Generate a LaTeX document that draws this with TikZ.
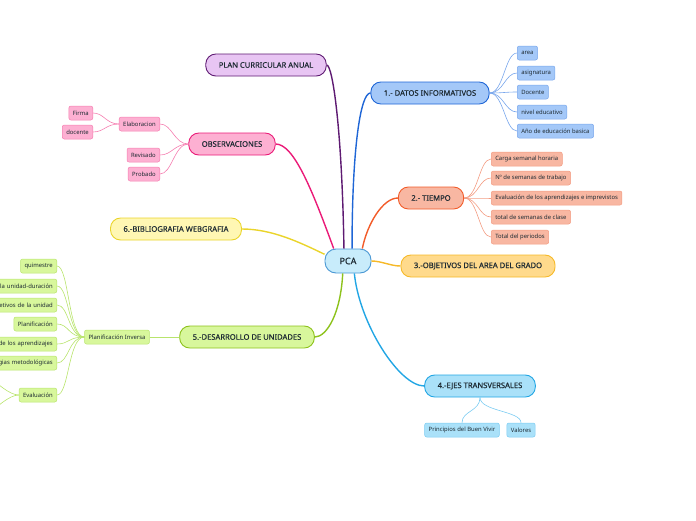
\documentclass[tikz,border=0pt]{standalone}
\usepackage{fontspec}
\setmainfont{Noto Sans}
\newfontfamily\topicfont[FakeBold=0.5]{Noto Sans}
\usetikzlibrary{calc}

% colores de las ramas
\definecolor{ink}{HTML}{1E2B33}
\definecolor{pcafill}{HTML}{C8ECFB}\definecolor{pcaline}{HTML}{4A98D4}
\definecolor{planfill}{HTML}{E8C5F3}\definecolor{planline}{HTML}{5E1A72}
\definecolor{datfill}{HTML}{A4C8F8}\definecolor{datline}{HTML}{1F66D6}\definecolor{datleaf}{HTML}{78A6EC}
\definecolor{obsfill}{HTML}{FDB0D2}\definecolor{obsline}{HTML}{EA1B78}\definecolor{obsleaf}{HTML}{F57EB0}
\definecolor{timfill}{HTML}{F8B7A2}\definecolor{timline}{HTML}{F25C2A}\definecolor{timleaf}{HTML}{F39C82}
\definecolor{bibfill}{HTML}{FFF7B3}\definecolor{bibline}{HTML}{EAD42A}
\definecolor{objfill}{HTML}{FFDA8C}\definecolor{objline}{HTML}{F6B928}
\definecolor{desfill}{HTML}{D8F79C}\definecolor{desline}{HTML}{8DC21C}\definecolor{desleaf}{HTML}{B8E46C}
\definecolor{ejefill}{HTML}{AAE1F9}\definecolor{ejeline}{HTML}{22A6E4}\definecolor{ejeleaf}{HTML}{7CCCF2}

\tikzset{
  topic/.style={draw, line width=0.9pt, rounded corners=10pt, minimum height=22pt,
    inner xsep=13pt, inner ysep=0pt, text=ink, font=\topicfont\fontsize{7.6}{9}\selectfont},
  leaf/.style={draw, line width=0.5pt, rounded corners=2pt, minimum height=14pt,
    inner xsep=4pt, inner ysep=0pt, text=ink, font=\fontsize{5.9}{7}\selectfont},
  cutleaf/.style={leaf, text width=80pt, align=right, anchor=east},
  branch/.style={line width=1.4pt},
  twig/.style={line width=0.6pt},
}

\begin{document}
\begin{tikzpicture}[x=1pt, y=-1pt]
  %%%%% START %%%%%
  \useasboundingbox (0,0) rectangle (696,520);

  % nodo central
  \node[topic, fill=pcafill, draw=pcaline, minimum width=46pt, minimum height=24pt, inner xsep=4pt,
    rounded corners=11pt, font=\topicfont\fontsize{9}{10}\selectfont] (pca) at (348,261) {PCA};

  % ramas principales
  \node[topic, fill=planfill, draw=planline] (plan) at (266,65) {PLAN CURRICULAR ANUAL};
  \node[topic, fill=datfill, draw=datline] (datos) at (430,93) {1.- DATOS INFORMATIVOS};
  \node[topic, fill=obsfill, draw=obsline] (obs) at (232,144) {OBSERVACIONES};
  \node[topic, fill=timfill, draw=timline] (tiempo) at (431,198) {2.- TIEMPO};
  \node[topic, fill=bibfill, draw=bibline] (biblio) at (176,229) {6.-BIBLIOGRAFIA WEBGRAFIA};
  \node[topic, fill=objfill, draw=objline] (obj) at (478,266) {3.-OBJETIVOS DEL AREA DEL GRADO};
  \node[topic, fill=desfill, draw=desline] (des) at (247,337) {5.-DESARROLLO DE UNIDADES};
  \node[topic, fill=ejefill, draw=ejeline] (ejes) at (480,386) {4.-EJES TRANSVERSALES};

  \draw[branch, planline] (plan.east) .. controls +(6,0) and +(-2,-120) .. (pca.108);
  \draw[branch, datline] (pca.72) .. controls +(0,-100) and +(-10,0) .. (datos.west);
  \draw[branch, obsline] (obs.east) .. controls +(18,0) and +(-22,-60) .. (pca.139);
  \draw[branch, timline] (pca.41) .. controls +(5,-25) and +(-15,0) .. (tiempo.west);
  \draw[branch, bibline] (biblio.east) .. controls +(30,0) and +(-25,-12) .. (pca.164);
  \draw[branch, objline] (pca.east) .. controls +(10,0) and +(-10,0) .. (obj.west);
  \draw[branch, desline] (pca.247) .. controls +(-2,40) and +(12,0) .. (des.east);
  \draw[branch, ejeline] (pca.297) .. controls +(5,50) and +(-25,0) .. (ejes.west);

  % 1.- datos informativos
  \begin{scope}[every node/.style={leaf, anchor=west, fill=datfill, draw=datleaf}]
    \node (area) at (517,53) {area};
    \node (asig) at (517,73) {asignatura};
    \node (doc) at (517,92) {Docente};
    \node (nivel) at (517,112) {nivel educativo};
    \node (anio) at (517,131) {Año de educación basica};
  \end{scope}
  \foreach \n in {area,asig,doc,nivel,anio}
    \draw[twig, datleaf] (datos.east) .. controls +(14,0) and +(-12,0) .. (\n.west);

  % 2.- tiempo
  \begin{scope}[every node/.style={leaf, anchor=west, fill=timfill, draw=timleaf}]
    \node (carga) at (491,159) {Carga semanal horaria};
    \node (nsem) at (491,178) {Nº de semanas de trabajo};
    \node (evalap) at (491,198) {Evaluación de los aprendizajes e imprevistos};
    \node (totsem) at (491,217) {total de semanas de clase};
    \node (totper) at (491,237) {Total del periodos};
  \end{scope}
  \foreach \n in {carga,nsem,evalap,totsem,totper}
    \draw[twig, timleaf] (tiempo.east) .. controls +(14,0) and +(-12,0) .. (\n.west);

  % observaciones
  \begin{scope}[every node/.style={leaf, anchor=east, fill=obsfill, draw=obsleaf}]
    \node (elab) at (160,124) {Elaboracion};
    \node (firma) at (93,113) {Firma};
    \node (docente) at (93,132) {docente};
    \node (revis) at (160,155) {Revisado};
    \node (prob) at (160,174) {Probado};
  \end{scope}
  \foreach \n in {elab,revis,prob}
    \draw[twig, obsleaf] (obs.west) .. controls +(-14,0) and +(12,0) .. (\n.east);
  \foreach \n in {firma,docente}
    \draw[twig, obsleaf] (elab.west) .. controls +(-13,0) and +(11,0) .. (\n.east);

  % 5.- desarrollo de unidades
  \node[leaf, fill=desfill, draw=desleaf] (plinv) at (117,337) {Planificación Inversa};
  \draw[twig, desleaf] (des.west) -- (plinv.east);
  \begin{scope}[every node/.style={leaf, anchor=east, fill=desfill, draw=desleaf}]
    \node (quim) at (57,266) {quimestre};
    \node[cutleaf] (titulo) at (57,286) {la unidad-duración};
    \node[cutleaf] (objuni) at (57,305) {etivos de la unidad};
    \node (plan2) at (57,324) {Planificación};
    \node[cutleaf] (evaprend) at (57,344) {de los aprendizajes};
    \node[cutleaf] (estrat) at (57,363) {gias metodológicas};
    \node (evalua) at (57,395) {Evaluación};
  \end{scope}
  \foreach \n in {quim,titulo,objuni,plan2,evaprend,estrat,evalua}
    \draw[twig, desleaf] (plinv.west) .. controls +(-16,0) and +(12,0) .. (\n.east);
  \coordinate (evup) at (-12,376);
  \coordinate (evdown) at (-12,414);
  \draw[twig, desleaf] (evalua.west) .. controls +(-10,0) and +(8,6) .. (evup);
  \draw[twig, desleaf] (evalua.west) .. controls +(-10,0) and +(8,-6) .. (evdown);

  % 4.- ejes transversales
  \begin{scope}[every node/.style={leaf, fill=ejefill, draw=ejeleaf}]
    \node (buen) at (462,430) {Principios del Buen Vivir};
    \node (valor) at (521,430) {Valores};
  \end{scope}
  \foreach \n in {buen,valor}
    \draw[twig, ejeleaf] (ejes.south) .. controls +(0,14) and +(0,-12) .. (\n.north);
  %%%%% END %%%%%
\end{tikzpicture}
\end{document}
